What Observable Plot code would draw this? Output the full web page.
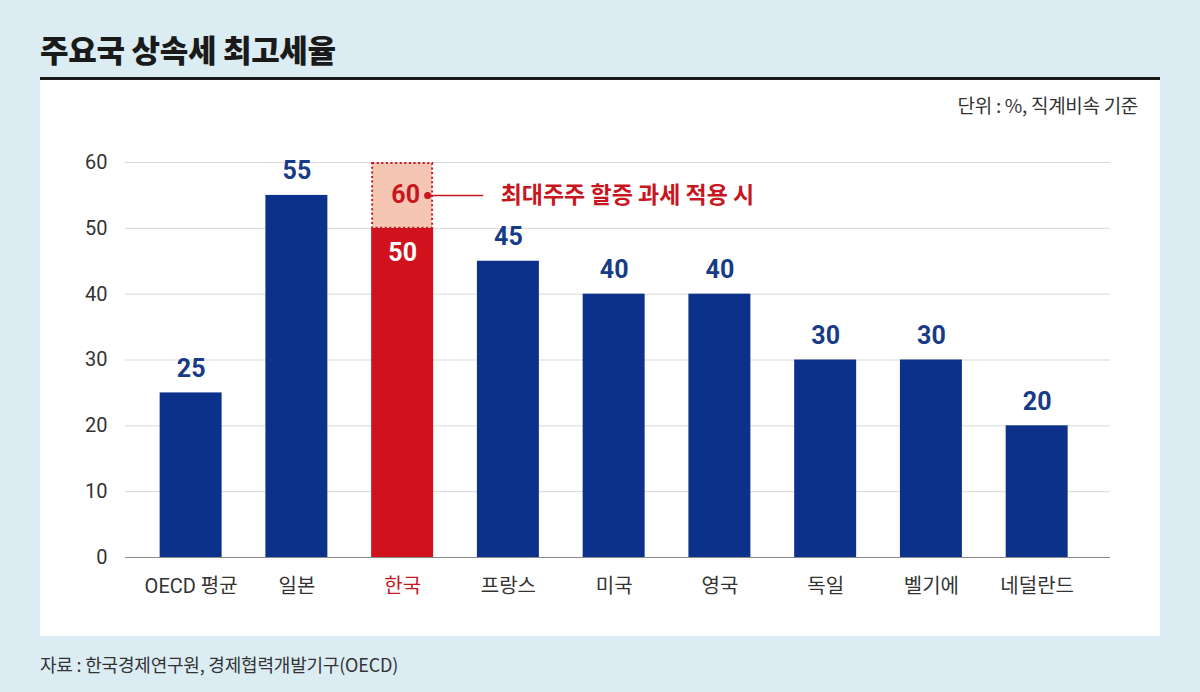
<!DOCTYPE html>
<html>
<head>
<meta charset="utf-8">
<script src="https://cdn.jsdelivr.net/npm/d3@7"></script>
<script src="https://cdn.jsdelivr.net/npm/@observablehq/plot@0.6"></script>
<style>
  html, body { margin: 0; padding: 0; }
  body { width: 1200px; height: 692px; background: #dbecf3; position: relative; overflow: hidden;
         font-family: Roboto, "Noto Sans CJK KR", sans-serif; }
  #title { position: absolute; left: 40px; top: 29px; font-size: 31px; font-weight: 900; color: #1a1a1a;
           font-family: "Noto Sans CJK KR", sans-serif; letter-spacing: -0.3px; line-height: 40px; }
  #rule { position: absolute; left: 40px; top: 77px; width: 1120px; height: 3px; background: #1a1a1a; }
  #panel { position: absolute; left: 40px; top: 80px; width: 1120px; height: 556px; background: #fff; }
  #unit { position: absolute; right: 62px; top: 92px; font-size: 19px; color: #333; line-height: 26px;
          font-family: "Noto Sans CJK KR", sans-serif; letter-spacing: -0.3px; }
  #caption { position: absolute; left: 40px; top: 651px; font-size: 18px; color: #333; line-height: 26px;
             font-family: "Noto Sans CJK KR", sans-serif; letter-spacing: -0.2px; }
  #chart { position: absolute; left: 0; top: 120px; }
</style>
</head>
<body>
<div id="title">주요국 상속세 최고세율</div>
<div id="rule"></div>
<div id="panel"></div>
<div id="unit">단위 : %, 직계비속 기준</div>
<div id="chart"></div>
<div id="caption">자료 : 한국경제연구원, 경제협력개발기구(OECD)</div>
<script>
const countries = ["OECD 평균", "일본", "한국", "프랑스", "미국", "영국", "독일", "벨기에", "네덜란드"];
const values = [25, 55, 50, 45, 40, 40, 30, 30, 20];
const highlight = "한국";
const surchargeValue = 60;
const surchargeNote = "최대주주 할증 과세 적용 시";
const yTicks = [0, 10, 20, 30, 40, 50, 60];

const blue = "#0b318b";
const labelBlue = "#173b86";
const red = "#d0121d";
const redText = "#c8161e";
const pink = "#f5c6b4";

const data = countries.map((c, i) => ({country: c, value: values[i]}));
const korea = data.filter(d => d.country === highlight);
const others = data.filter(d => d.country !== highlight);
const surcharge = korea.map(d => ({country: d.country, base: d.value, top: surchargeValue}));
const noteY = (surcharge[0].base + surcharge[0].top) / 2;

const chart = Plot.plot({
  width: 1200,
  height: 500,
  marginTop: 42,
  marginBottom: 63,
  marginLeft: 125,
  marginRight: 90,
  style: {background: "transparent", fontFamily: "Roboto, 'Noto Sans CJK KR', sans-serif"},
  x: {domain: countries, paddingInner: 0.414, paddingOuter: 0.364, align: 0.45, round: false, axis: null},
  y: {domain: [0, 60], axis: null},
  marks: [
    Plot.ruleY(yTicks.filter(t => t > 0), {stroke: "#d9d9d9", strokeWidth: 1}),
    Plot.axisY({ticks: yTicks, tickSize: 0, tickPadding: 18, fontSize: 20, fill: "#333", label: null}),
    Plot.barY(data, {x: "country", y: "value", fill: d => d.country === highlight ? red : blue}),
    Plot.rectY(surcharge, {x: "country", y1: "base", y2: "top", fill: pink, stroke: redText,
      strokeWidth: 2, strokeDasharray: "2,2.6", insetLeft: 1, insetRight: 1, insetTop: 1}),
    Plot.ruleY([0], {stroke: "#8a8a8a", strokeWidth: 1.2}),
    Plot.text(others, {x: "country", y: "value", text: d => String(d.value), dy: -24,
      fill: labelBlue, fontSize: 25, fontWeight: "bold"}),
    Plot.text(korea, {x: "country", y: "value", text: d => String(d.value), dy: 25,
      fill: "#fff", fontSize: 25, fontWeight: "bold"}),
    Plot.text(surcharge, {x: "country", y: noteY, text: d => String(d.top), dx: 3,
      fill: redText, fontSize: 25, fontWeight: "bold"}),
    Plot.tickY(surcharge, {x: "country", y: noteY, dx: 59, insetRight: 9, stroke: redText, strokeWidth: 1.5}),
    Plot.dot(surcharge, {x: "country", y: noteY, dx: 25, r: 3.5, fill: redText, stroke: null}),
    Plot.text(surcharge, {x: "country", y: noteY, text: () => surchargeNote, dx: 98, textAnchor: "start",
      fill: redText, fontSize: 23, fontWeight: "bold", fontFamily: "'Noto Sans CJK KR', sans-serif"}),
    Plot.text(data, {x: "country", y: 0, text: "country", dy: 29, fontSize: 20,
      fill: d => d.country === highlight ? redText : "#333"})
  ]
});
document.getElementById("chart").appendChild(chart);
</script>
</body>
</html>
